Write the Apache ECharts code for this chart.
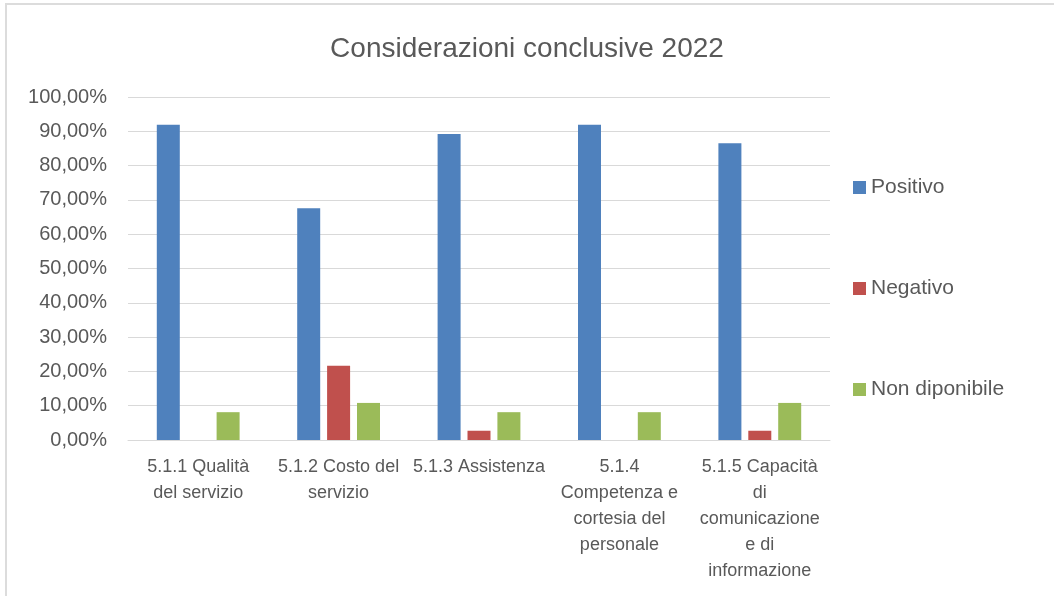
<!DOCTYPE html>
<html>
<head>
<meta charset="utf-8">
<script src="https://cdn.jsdelivr.net/npm/echarts@6/dist/echarts.min.js"></script>
<style>
html,body{margin:0;padding:0;background:#fff;}
#frame{position:absolute;left:5px;top:3px;width:1049px;height:593px;border-left:2px solid #dcdcdc;border-top:2px solid #dcdcdc;box-sizing:border-box;}
#chart{position:absolute;left:0;top:0;width:1054px;height:596px;}
</style>
</head>
<body>
<div id="frame"></div>
<div id="chart"></div>
<script>
const categories = [
  "5.1.1 Qualità\ndel servizio",
  "5.1.2 Costo del\nservizio",
  "5.1.3 Assistenza",
  "5.1.4\nCompetenza e\ncortesia del\npersonale",
  "5.1.5 Capacità\ndi\ncomunicazione\ne di\ninformazione"
];
const seriesNames = ["Positivo", "Negativo", "Non diponibile"];
const positivo = [91.89, 67.57, 89.19, 91.89, 86.49];
const negativo = [0, 21.62, 2.70, 0, 2.70];
const nonDisponibile = [8.11, 10.81, 8.11, 8.11, 10.81];
const colors = ["#4f81bd", "#c0504d", "#9bbb59"];

const FONT = "Liberation Sans";
const chart = echarts.init(document.getElementById('chart'), null, {renderer: 'canvas'});
const mk = (name, data, i) => ({
  name: name, type: 'bar', data: data, barWidth: 23, barGap: '30%',
  itemStyle: {color: colors[i]}
});
chart.setOption({
  animation: false,
  backgroundColor: 'transparent',
  title: {
    text: 'Considerazioni conclusive 2022', left: 'center', top: 30,
    textStyle: {fontFamily: FONT, fontSize: 28, fontWeight: 'normal', color: '#595959'}
  },
  legend: {
    orient: 'vertical', left: 848, top: 172, itemGap: 80,
    itemWidth: 13, itemHeight: 13, icon: 'rect',
    textStyle: {fontFamily: FONT, fontSize: 21, color: '#595959'},
    data: seriesNames
  },
  grid: {left: 128, right: 224, top: 97, bottom: 156, containLabel: false},
  xAxis: {
    type: 'category', data: categories,
    axisLine: {lineStyle: {color: '#d9d9d9', width: 1}},
    axisTick: {show: false},
    axisLabel: {fontFamily: FONT, fontSize: 18, color: '#595959', lineHeight: 26, margin: 14, interval: 0, verticalAlign: 'top'}
  },
  yAxis: {
    type: 'value', min: 0, max: 100, interval: 10,
    axisLine: {show: false}, axisTick: {show: false},
    splitLine: {lineStyle: {color: '#d9d9d9', width: 1}},
    axisLabel: {fontFamily: FONT, fontSize: 20, color: '#595959', margin: 21,
      formatter: v => v.toFixed(2).replace('.', ',') + '%'}
  },
  series: [
    mk(seriesNames[0], positivo, 0),
    mk(seriesNames[1], negativo, 1),
    mk(seriesNames[2], nonDisponibile, 2)
  ]
});
</script>
</body>
</html>
